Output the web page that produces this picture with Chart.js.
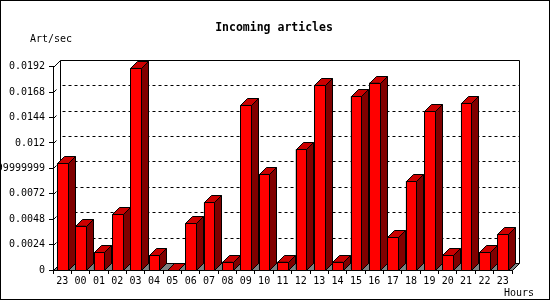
<!DOCTYPE html>
<html>
<head>
<meta charset="utf-8">
<script src="https://cdn.jsdelivr.net/npm/chart.js@4/dist/chart.umd.min.js"></script>
<style>
  html, body { margin: 0; padding: 0; background: #fff; }
</style>
</head>
<body>
<canvas id="myChart" width="550" height="300"></canvas>
<script>
// hours shown along the bottom (first one is the previous day's 23h)
const hourLabels = ['23', '00', '01', '02', '03', '04', '05', '06', '07', '08', '09', '10',
    '11', '12', '13', '14', '15', '16', '17', '18', '19', '20', '21', '22', '23'];

// incoming articles per second
const artPerSec = [0.0101, 0.0042, 0.0017, 0.0053, 0.0191, 0.0014, 0, 0.0044, 0.0064, 0.0008,
    0.0156, 0.0091, 0.0008, 0.0114, 0.0175, 0.0008, 0.0164, 0.0177, 0.0031, 0.0084,
    0.0150, 0.0014, 0.0158, 0.0017, 0.0034];

// y tick labels as the original prints them (float noise included)
const yTickLabels = ['0', '0.0024', '0.0048', '0.0072', '0.009599999999', '0.012', '0.0144', '0.0168', '0.0192'];

const chartTitle = 'Incoming articles';
const yAxisTitle = 'Art/sec';
const xAxisTitle = 'Hours';

const DEPTH = 7;
const MONO = '"DejaVu Sans Mono", "Liberation Mono", monospace';
const crisp = v => Math.round(v) + 0.5;

function poly(ctx, pts, fill) {
    ctx.beginPath();
    ctx.moveTo(pts[0][0], pts[0][1]);
    for (let i = 1; i < pts.length; i++) ctx.lineTo(pts[i][0], pts[i][1]);
    ctx.closePath();
    ctx.fillStyle = fill;
    ctx.fill();
    ctx.stroke();
}

// bar edges snapped to whole pixels so the outlines stay sharp
function barBox(bar) {
    return {
        xl: crisp(bar.x - bar.width / 2),
        xr: crisp(bar.x + bar.width / 2),
        top: crisp(bar.y),
        base: crisp(bar.base)
    };
}

// draws the 3D box (floor, back wall, dotted grid) and the bar sides/tops
const box3d = {
    id: 'box3d',
    beforeDatasetsDraw(chart) {
        const { ctx, chartArea: a, scales: { y } } = chart;
        const D = DEPTH;
        const L = crisp(a.left), R = crisp(a.right), B = crisp(a.bottom), T = crisp(a.top);
        ctx.save();
        ctx.strokeStyle = '#000';
        ctx.lineWidth = 1;

        // floor
        poly(ctx, [[L, B], [R, B], [R + D, B - D], [L + D, B - D]], '#808080');

        // back wall outline
        ctx.beginPath();
        ctx.moveTo(L + D, B - D);
        ctx.lineTo(L + D, T - D);
        ctx.lineTo(R + D, T - D);
        ctx.lineTo(R + D, B - D);
        ctx.moveTo(L, T);
        ctx.lineTo(L + D, T - D);
        ctx.stroke();

        // dotted grid lines on the back wall + little slashes at the front ticks
        y.ticks.forEach(t => {
            if (t.value <= 0 || t.value >= y.max) return;
            const py = crisp(y.getPixelForValue(t.value));
            ctx.setLineDash([3, 3]);
            ctx.beginPath();
            ctx.moveTo(L + D + 2, py - D);
            ctx.lineTo(R + D, py - D);
            ctx.stroke();
            ctx.setLineDash([]);
            ctx.beginPath();
            ctx.moveTo(L, py);
            ctx.lineTo(L + 3, py - 3);
            ctx.stroke();
        });

        // bar sides and tops
        const meta = chart.getDatasetMeta(0);
        meta.data.forEach(bar => {
            const { xl, xr, top, base } = barBox(bar);
            poly(ctx, [[xr, top], [xr + D, top - D], [xr + D, base - D], [xr, base]], '#800000');
            poly(ctx, [[xl, top], [xl + D, top - D], [xr + D, top - D], [xr, top]], '#cc0000');
        });
        ctx.restore();
    },
    afterDatasetsDraw(chart) {
        // re-trace the front faces on whole pixels
        const { ctx } = chart;
        ctx.save();
        ctx.strokeStyle = '#000';
        ctx.lineWidth = 1;
        chart.getDatasetMeta(0).data.forEach(bar => {
            const { xl, xr, top, base } = barBox(bar);
            if (base - top < 1) return;
            poly(ctx, [[xl, top], [xr, top], [xr, base], [xl, base]], '#ff0000');
        });
        ctx.restore();
    },
    afterDraw(chart) {
        const { ctx } = chart;
        ctx.save();
        ctx.fillStyle = '#000';
        ctx.textBaseline = 'alphabetic';

        ctx.font = 'bold 11.5px ' + MONO;
        ctx.textAlign = 'center';
        ctx.fillText(chartTitle, 274, 31);

        ctx.font = '10px ' + MONO;
        ctx.textAlign = 'left';
        ctx.fillText(yAxisTitle, 30, 42);
        ctx.fillText(xAxisTitle, 504, 296);

        // image frame
        ctx.strokeStyle = '#000';
        ctx.lineWidth = 1;
        ctx.strokeRect(0.5, 0.5, 549, 299);
        ctx.restore();
    }
};

const ctx = document.getElementById('myChart').getContext('2d');
const myChart = new Chart(ctx, {
    type: 'bar',
    data: {
        labels: hourLabels,
        datasets: [{
            data: artPerSec,
            backgroundColor: '#ff0000',
            borderColor: '#000000',
            borderWidth: 1,
            borderSkipped: false,
            barPercentage: 0.58,
            categoryPercentage: 1
        }]
    },
    options: {
        responsive: false,
        animation: false,
        devicePixelRatio: 1,
        layout: { padding: { top: 66.7, right: 38, left: 0, bottom: 0 } },
        plugins: {
            legend: { display: false },
            tooltip: { enabled: false }
        },
        scales: {
            x: {
                afterFit: s => { s.height = 30; },
                grid: {
                    offset: true,
                    drawOnChartArea: false,
                    drawTicks: true,
                    tickLength: 4,
                    color: '#000'
                },
                border: { display: true, color: '#000', width: 1 },
                ticks: {
                    color: '#000',
                    font: { family: MONO, size: 10 },
                    padding: 1,
                    maxRotation: 0,
                    autoSkip: false
                }
            },
            y: {
                min: 0,
                max: 0.0192,
                afterFit: s => { s.width = 53; },
                grid: {
                    drawOnChartArea: false,
                    drawTicks: true,
                    tickLength: 4,
                    color: '#000'
                },
                border: { display: true, color: '#000', width: 1 },
                ticks: {
                    stepSize: 0.0024,
                    autoSkip: false,
                    color: '#000',
                    padding: 4,
                    font: { family: MONO, size: 10 },
                    callback: (value, index) => yTickLabels[index]
                }
            }
        }
    },
    plugins: [box3d]
});
</script>
</body>
</html>
